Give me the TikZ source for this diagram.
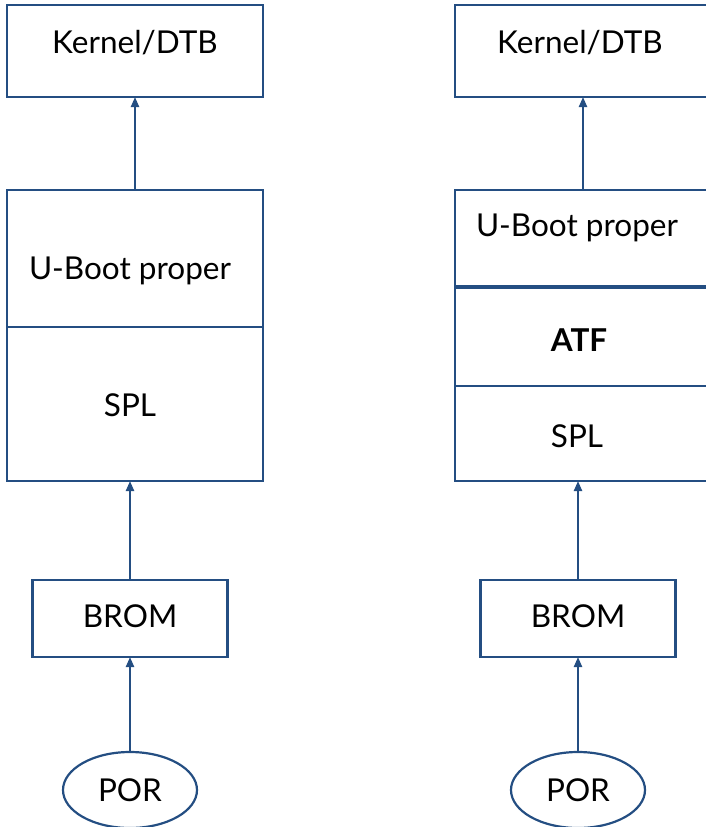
\documentclass[tikz,border=0pt]{standalone}
\usepackage{fontspec}
\setmainfont{Lato}
\usepackage{tikz}
\usetikzlibrary{positioning}
\usetikzlibrary{arrows.meta,shapes.geometric}
\definecolor{bootblue}{RGB}{36,78,130}
\tikzstyle{boot text}=[font=\fontsize{31.5}{38}\selectfont,text height=22.6pt,text depth=0pt,inner sep=0pt]
\tikzstyle{boot box}=[draw=bootblue,line width=2.2pt,rectangle,minimum width=256pt,inner sep=0pt,outer sep=0pt]
\tikzstyle{por oval}=[boot text,draw=bootblue,line width=2.2pt,ellipse,minimum width=134pt,minimum height=76pt,outer sep=0pt]
\tikzstyle{boot edge}=[-{Triangle[length=10pt,width=8pt]},bootblue,line width=2.2pt]
\newcommand{\bootnode}[5][]{
  \node [boot box, #1, label={[boot text, xshift=#4, yshift=#5]center:#3}] (#2) {}
}

\begin{document}
\begin{tikzpicture}[x=1pt,y=-1pt]
        \useasboundingbox (0,0) rectangle (705,827);
        % left: SPL loads U-Boot
        \node[por oval] (porL) at (130,790) {POR};
        \bootnode[above=95pt of porL, minimum width=195pt, minimum height=77pt]{bromL}{BROM}{0pt}{2.5pt};
        \bootnode[above=99pt of bromL, xshift=5pt, minimum height=154pt]{splL}{SPL}{-5pt}{-1pt};
        \bootnode[above=0pt of splL, minimum height=137pt]{ubootL}{U-Boot proper}{-5pt}{-9.5pt};
        \bootnode[above=93pt of ubootL, minimum height=92pt]{kernelL}{Kernel/DTB}{0pt}{9pt};

        % right: with ATF in between
        \node[por oval] (porR) at (578,790) {POR};
        \bootnode[above=95pt of porR, minimum width=195pt, minimum height=77pt]{bromR}{BROM}{0pt}{2.5pt};
        \bootnode[above=99pt of bromR, xshift=5pt, minimum height=95pt]{splR}{SPL}{-6pt}{-2.5pt};
        \bootnode[above=0pt of splR, minimum height=99pt]{atfR}{\textbf{ATF}}{-4pt}{-3.5pt};
        \bootnode[above=0pt of atfR, minimum height=97pt]{ubootR}{U-Boot proper}{-6pt}{13pt};
        \bootnode[above=93pt of ubootR, minimum height=92pt]{kernelR}{Kernel/DTB}{-3pt}{9pt};
        \draw[bootblue, line width=3.2pt] (ubootR.south west) -- (ubootR.south east);

                \draw[boot edge] (porL) -- (bromL);
                \draw[boot edge] (bromL.north) -- (bromL.north |- splL.south);
                \draw[boot edge] (ubootL) -- (kernelL);

                \draw[boot edge] (porR) -- (bromR);
                \draw[boot edge] (bromR.north) -- (bromR.north |- splR.south);
                \draw[boot edge] (ubootR) -- (kernelR);
\end{tikzpicture}
\end{document}
